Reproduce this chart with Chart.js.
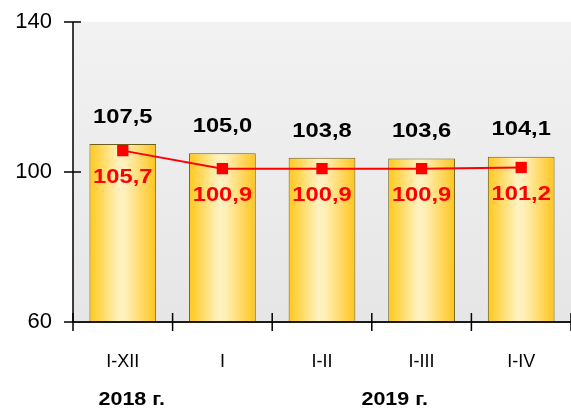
<!DOCTYPE html>
<html>
<head>
<meta charset="utf-8">
<script src="https://cdn.jsdelivr.net/npm/chart.js@4.4.1/dist/chart.umd.min.js"></script>
<style>
  html, body { margin: 0; padding: 0; background: #ffffff; }
  #wrap { width: 571px; height: 412px; position: relative; }
</style>
</head>
<body>
<div id="wrap"><canvas id="c" width="571" height="412"></canvas></div>
<script>
// Periods
const categories = ['I-XII', 'I', 'I-II', 'I-III', 'I-IV'];
// Cumulative index, % (bars)
const barValues = [107.5, 105.0, 103.8, 103.6, 104.1];
// Index, % (line)
const lineValues = [105.7, 100.9, 100.9, 100.9, 101.2];
// Y axis ticks
const yTicks = [60, 100, 140];
// Year captions under the periods, placed at fractional category positions
const yearLabels = ['2018 г.', '2019 г.'];
const yearPositions = [0.09, 2.73];

const FONT = '"Liberation Sans", Arial, sans-serif';
const fmt = v => v.toFixed(1).replace('.', ',');

function barGradient(ctx) {
  const chart = ctx.chart;
  const xs = chart.scales.x;
  if (!chart.chartArea || !xs) return '#ffd84a';
  const cx = xs.getPixelForValue(ctx.dataIndex);
  const half = (xs.width / categories.length) * 0.67 / 2;
  const g = chart.ctx.createLinearGradient(cx - half, 0, cx + half, 0);
  g.addColorStop(0, '#ffc81a');
  g.addColorStop(0.45, '#fff2c2');
  g.addColorStop(0.55, '#ffefb6');
  g.addColorStop(1, '#ffc51c');
  return g;
}

// Plot area background
const plotBg = {
  id: 'plotBg',
  beforeDraw(chart) {
    const { ctx, chartArea: a } = chart;
    const g = ctx.createLinearGradient(0, a.top, 0, a.bottom);
    g.addColorStop(0, '#f2f2f2');
    g.addColorStop(1, '#e6e6e6');
    ctx.save();
    ctx.fillStyle = g;
    ctx.fillRect(a.left, a.top, a.right - a.left, a.bottom - a.top);
    ctx.restore();
  }
};

// Axis lines with crossing tick marks
const axesLines = {
  id: 'axesLines',
  afterDatasetsDraw(chart) {
    const { ctx, chartArea: a, scales } = chart;
    ctx.save();
    ctx.strokeStyle = '#000';
    ctx.lineWidth = 1.5;
    ctx.beginPath();
    ctx.moveTo(a.left, a.top);
    ctx.lineTo(a.left, a.bottom);
    yTicks.forEach(t => {
      const y = scales.y.getPixelForValue(t);
      ctx.moveTo(a.left - 9, y);
      ctx.lineTo(a.left + 8, y);
    });
    ctx.stroke();
    ctx.lineWidth = 2;
    ctx.strokeStyle = '#1a1a1a';
    ctx.beginPath();
    ctx.moveTo(a.left, a.bottom);
    ctx.lineTo(a.right, a.bottom);
    ctx.stroke();
    ctx.lineWidth = 1.5;
    ctx.strokeStyle = '#000';
    ctx.beginPath();
    for (let i = 0; i <= categories.length; i++) {
      const x = scales.x.getPixelForValue(i - 0.5);
      ctx.moveTo(x, a.bottom - 9);
      ctx.lineTo(x, a.bottom + 9);
    }
    ctx.stroke();
    ctx.restore();
  }
};

function stretchedText(ctx, text, x, y, sx) {
  ctx.save();
  ctx.translate(x, y);
  ctx.scale(sx, 1);
  ctx.fillText(text, 0, 0);
  ctx.restore();
}

// Value labels and year captions
const labels = {
  id: 'labels',
  afterDraw(chart) {
    const { ctx, scales } = chart;
    ctx.save();
    ctx.textAlign = 'center';
    ctx.textBaseline = 'middle';
    ctx.font = 'bold 21px ' + FONT;
    const barMeta = chart.getDatasetMeta(0);
    const lineMeta = chart.getDatasetMeta(1);
    barValues.forEach((v, i) => {
      const el = barMeta.data[i];
      ctx.fillStyle = '#000';
      stretchedText(ctx, fmt(v), el.x, el.y - 27, 1.13);
    });
    lineValues.forEach((v, i) => {
      const el = lineMeta.data[i];
      ctx.fillStyle = '#ff0000';
      stretchedText(ctx, fmt(v), el.x, el.y + 27, 1.13);
    });
    ctx.font = 'bold 19px ' + FONT;
    ctx.fillStyle = '#000';
    yearLabels.forEach((t, i) => {
      stretchedText(ctx, t, scales.x.getPixelForValue(yearPositions[i]), 400, 1.13);
    });
    ctx.restore();
  }
};

new Chart(document.getElementById('c'), {
  data: {
    labels: categories,
    datasets: [
      {
        type: 'bar',
        data: barValues,
        order: 2,
        backgroundColor: barGradient,
        borderColor: '#6e5e1e',
        borderWidth: 1,
        borderSkipped: false,
        barPercentage: 0.67,
        categoryPercentage: 1.0
      },
      {
        type: 'line',
        data: lineValues,
        order: 1,
        borderColor: '#ff0000',
        borderWidth: 2,
        backgroundColor: '#ff0000',
        pointStyle: 'rect',
        pointRadius: 8,
        pointBorderWidth: 0,
        tension: 0
      }
    ]
  },
  options: {
    responsive: false,
    animation: false,
    layout: { autoPadding: false, padding: { top: 22, right: 0, left: 0, bottom: 0 } },
    plugins: {
      legend: { display: false },
      tooltip: { enabled: false }
    },
    scales: {
      x: {
        type: 'category',
        offset: true,
        grid: { display: false, drawTicks: false },
        border: { display: false },
        ticks: {
          color: '#000',
          padding: 29,
          font: { family: FONT, size: 18 }
        },
        afterFit(s) {
          s.height = 90;
          s.paddingLeft = 0;
          s.paddingRight = 0;
        }
      },
      y: {
        min: 60,
        max: 140,
        grid: { display: false, drawTicks: false },
        border: { display: false },
        afterBuildTicks(s) { s.ticks = yTicks.map(v => ({ value: v })); },
        ticks: {
          color: '#000',
          padding: 21,
          font: { family: FONT, size: 22 },
          callback: v => String(v)
        },
        afterFit(s) {
          s.width = 73;
          s.paddingTop = 0;
          s.paddingBottom = 0;
        }
      }
    }
  },
  plugins: [plotBg, axesLines, labels]
});
</script>
</body>
</html>
